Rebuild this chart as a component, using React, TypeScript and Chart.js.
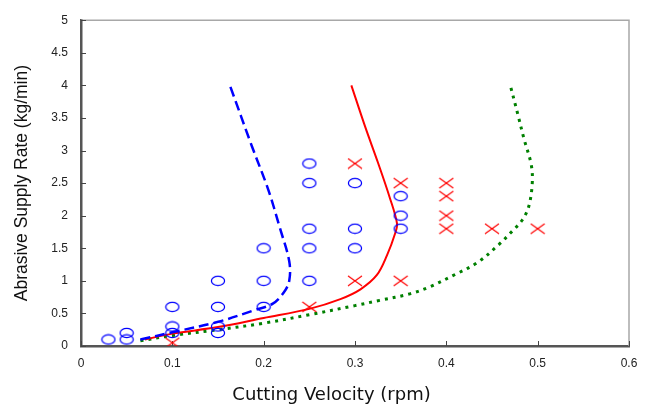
import React, { useEffect, useRef } from "react";
import { Chart, registerables } from "chart.js";

Chart.register(...registerables);

// Axis ticks
const xTickValues = [0, 0.1, 0.2, 0.3, 0.4, 0.5, 0.6];
const xTickLabels = ["0", "0.1", "0.2", "0.3", "0.4", "0.5", "0.6"];
const yTickValues = [0, 0.5, 1, 1.5, 2, 2.5, 3, 3.5, 4, 4.5, 5];
const yTickLabels = ["0", "0.5", "1", "1.5", "2", "2.5", "3", "3.5", "4", "4.5", "5"];

// Observations: circles (blue)
const circleX = [0.03, 0.05, 0.05, 0.1, 0.1, 0.1, 0.15, 0.15, 0.15, 0.15, 0.2, 0.2, 0.2, 0.25, 0.25, 0.25, 0.25, 0.25, 0.3, 0.3, 0.3, 0.35, 0.35, 0.35];
const circleY = [0.1, 0.1, 0.2, 0.2, 0.3, 0.6, 0.2, 0.3, 0.6, 1.0, 0.6, 1.0, 1.5, 1.0, 1.5, 1.8, 2.5, 2.8, 1.5, 1.8, 2.5, 1.8, 2.0, 2.3];

// Observations: crosses (red)
const crossX = [0.1, 0.25, 0.3, 0.3, 0.35, 0.35, 0.4, 0.4, 0.4, 0.4, 0.45, 0.5];
const crossY = [0.05, 0.6, 1.0, 2.8, 1.0, 2.5, 1.8, 2.0, 2.3, 2.5, 1.8, 1.8];

// Boundary curves
const blueX = [0.065, 0.1, 0.15, 0.19, 0.21, 0.222, 0.228, 0.228, 0.218, 0.205, 0.187, 0.163];
const blueY = [0.1, 0.21, 0.37, 0.55, 0.65, 0.82, 1.0, 1.3, 1.8, 2.4, 3.07, 4.0];

const redX = [0.07, 0.1, 0.15, 0.2, 0.25, 0.284, 0.306, 0.324, 0.335, 0.344, 0.346, 0.338, 0.325, 0.311, 0.296];
const redY = [0.1, 0.19, 0.29, 0.43, 0.57, 0.72, 0.87, 1.09, 1.39, 1.73, 1.88, 2.28, 2.82, 3.37, 4.0];

const greenX = [0.065, 0.1, 0.15, 0.2, 0.25, 0.3, 0.327, 0.36, 0.382, 0.41, 0.434, 0.457, 0.472, 0.483, 0.49, 0.494, 0.493, 0.485, 0.478, 0.47];
const greenY = [0.08, 0.16, 0.25, 0.35, 0.48, 0.62, 0.7, 0.8, 0.91, 1.1, 1.28, 1.55, 1.76, 1.93, 2.13, 2.48, 2.78, 3.18, 3.57, 4.0];

const pts = (xs: number[], ys: number[]) => xs.map((x, i) => ({ x, y: ys[i] }));

function makeEllipse(): HTMLCanvasElement {
  const c = document.createElement("canvas");
  c.width = 16;
  c.height = 12;
  const g = c.getContext("2d")!;
  g.strokeStyle = "#0000ff";
  g.lineWidth = 1.25;
  g.beginPath();
  g.ellipse(8, 6, 6.6, 4.7, 0, 0, Math.PI * 2);
  g.stroke();
  return c;
}

function makeCross(): HTMLCanvasElement {
  const c = document.createElement("canvas");
  c.width = 16;
  c.height = 12;
  const g = c.getContext("2d")!;
  g.strokeStyle = "#ff0000";
  g.lineWidth = 1.2;
  g.beginPath();
  g.moveTo(1, 1);
  g.lineTo(15, 11);
  g.moveTo(1, 11);
  g.lineTo(15, 1);
  g.stroke();
  return c;
}

const framePlugin = {
  id: "frame",
  beforeDatasetsDraw(chart: any) {
    const { ctx, chartArea, scales } = chart;
    const { left, right, top, bottom } = chartArea;
    ctx.save();
    ctx.strokeStyle = "#a8a8a8";
    ctx.lineWidth = 1.5;
    ctx.beginPath();
    ctx.moveTo(left, top);
    ctx.lineTo(right, top);
    ctx.lineTo(right, bottom);
    ctx.stroke();
    ctx.strokeStyle = "#444";
    ctx.lineWidth = 1;
    ctx.beginPath();
    scales.x.ticks.forEach((t: any) => {
      const px = Math.round(scales.x.getPixelForValue(t.value)) + 0.5;
      ctx.moveTo(px, bottom);
      ctx.lineTo(px, bottom - 5);
    });
    scales.y.ticks.forEach((t: any) => {
      const py = Math.round(scales.y.getPixelForValue(t.value)) + 0.5;
      ctx.moveTo(left, py);
      ctx.lineTo(left + 5, py);
    });
    ctx.stroke();
    ctx.restore();
  },
};

export default function App() {
  const ref = useRef<HTMLCanvasElement | null>(null);

  useEffect(() => {
    if (!ref.current) return;
    const ellipse = makeEllipse();
    const cross = makeCross();
    const tickFont = { family: "'Liberation Sans', Arial, sans-serif", size: 12 };
    const chart = new Chart(ref.current, {
      type: "scatter",
      data: {
        datasets: [
          {
            data: pts(circleX, circleY),
            pointStyle: ellipse as any,
            pointRadius: 5,
            showLine: false,
          },
          {
            data: pts(crossX, crossY),
            pointStyle: cross as any,
            pointRadius: 5,
            showLine: false,
          },
          {
            data: pts(blueX, blueY),
            showLine: true,
            borderColor: "#0000ff",
            borderWidth: 2.5,
            borderDash: [10, 5],
            pointRadius: 0,
            tension: 0.35,
            fill: false,
          },
          {
            data: pts(redX, redY),
            showLine: true,
            borderColor: "#ff0000",
            borderWidth: 2,
            pointRadius: 0,
            tension: 0.35,
            fill: false,
          },
          {
            data: pts(greenX, greenY),
            showLine: true,
            borderColor: "#008000",
            borderWidth: 3,
            borderDash: [3, 5],
            pointRadius: 0,
            tension: 0.35,
            fill: false,
          },
        ],
      },
      options: {
        animation: false,
        responsive: false,
        events: [],
        layout: { padding: { left: 10, right: 0, top: 11, bottom: 0 } },
        plugins: {
          legend: { display: false },
          tooltip: { enabled: false },
          title: {
            display: true,
            position: "bottom",
            text: "Cutting Velocity (rpm)",
            color: "#111",
            font: { family: "'DejaVu Sans', sans-serif", size: 18, weight: "normal" },
            padding: { top: 0, bottom: 3 },
          },
        },
        scales: {
          x: {
            type: "linear",
            min: 0,
            max: 0.6,
            afterFit: (s: any) => {
              s.height = 38.4;
            },
            afterBuildTicks: (s: any) => {
              s.ticks = xTickValues.map((v) => ({ value: v }));
            },
            ticks: {
              callback: (_v: any, i: number) => xTickLabels[i],
              font: tickFont,
              color: "#222",
              padding: 10,
              maxRotation: 0,
            },
            grid: { display: false, drawTicks: false },
            border: { display: true, color: "#555", width: 2.5 },
          },
          y: {
            type: "linear",
            min: 0,
            max: 5,
            afterFit: (s: any) => {
              s.width = 71;
            },
            afterBuildTicks: (s: any) => {
              s.ticks = yTickValues.map((v) => ({ value: v }));
            },
            ticks: {
              callback: (_v: any, i: number) => yTickLabels[i],
              font: tickFont,
              color: "#222",
              padding: 13,
            },
            grid: { display: false, drawTicks: false },
            border: { display: true, color: "#555", width: 2.5 },
            title: {
              display: true,
              text: "Abrasive Supply Rate (kg/min)",
              color: "#111",
              font: { family: "'Liberation Sans', Arial, sans-serif", size: 17.5 },
              padding: { top: 2, bottom: 0 },
            },
          },
          y2: {
            type: "linear",
            position: "right",
            display: true,
            afterFit: (s: any) => {
              s.width = 24;
            },
            ticks: { display: false },
            grid: { display: false, drawTicks: false },
            border: { display: false },
          },
        },
      },
      plugins: [framePlugin],
    } as any);
    return () => chart.destroy();
  }, []);

  return (
    <div style={{ position: "fixed", left: 0, top: 0, width: 653, height: 409, background: "#fff" }}>
      <canvas ref={ref} width={653} height={409} style={{ display: "block" }} />
    </div>
  );
}
